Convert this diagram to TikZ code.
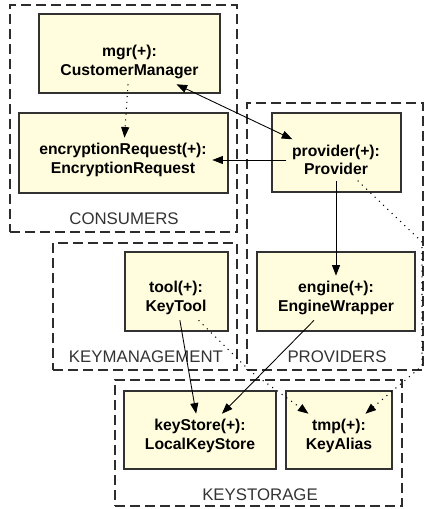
\documentclass[tikz,border=0pt]{standalone}
\usepackage{fontspec}
\setmainfont{Liberation Sans}
\usetikzlibrary{arrows.meta,fit}
\definecolor{objfill}{RGB}{255,253,222}
\definecolor{objline}{RGB}{50,50,50}
\definecolor{pkgline}{RGB}{45,45,45}
\begin{document}
\begin{tikzpicture}[x=0.75pt, y=-0.75pt,
    obj/.style={draw=objline, fill=objfill, line width=0.8pt, inner sep=0pt},
    txt/.style={font=\fontsize{11.8}{14}\selectfont\bfseries, align=center, inner sep=4pt},
    pkg/.style={draw=pkgline, line width=0.8pt, dash pattern=on 7.5pt off 3.75pt, inner sep=0pt},
    pkgname/.style={font=\fontsize{12.6}{14}\selectfont, text=black!80, inner sep=1pt},
    link/.style={line width=0.65pt, -{Triangle[length=8pt,width=6pt]}},
    both/.style={line width=0.65pt, {Triangle[length=8pt,width=6pt]}-{Triangle[length=8pt,width=6pt]}},
    dep/.style={line width=0.8pt, dash pattern=on 0.8pt off 3.6pt, -{Triangle[length=8pt,width=6pt]}}]

    \useasboundingbox (0,0) rectangle (428,509);

    % packages
    \node[pkg, fit={(10,5) (237,232)}]    (consumers) {};
    \node[pkg, fit={(53,243) (237,370)}]  (keymanagement) {};
    \node[pkg, fit={(247,103) (423,370)}] (providers) {};
    \node[pkg, fit={(115,380) (402,506)}] (keystorage) {};
    \node[pkgname] (consumerslbl)     at (124,219) {CONSUMERS};
    \node[pkgname] (keymanagementlbl) at (146,357) {KEYMANAGEMENT};
    \node[pkgname] (providerslbl)     at (337,357) {PROVIDERS};
    \node[pkgname] (keystoragelbl)    at (260,495) {KEYSTORAGE};

    % objects
    \node[obj, fit={(39,14) (220,93)}]    (mgrbox) {};
    \node[obj, fit={(19,113) (228,193)}]  (encbox) {};
    \node[obj, fit={(272,113) (401,192)}] (providerbox) {};
    \node[obj, fit={(125,252) (228,331)}] (toolbox) {};
    \node[obj, fit={(257,252) (415,331)}] (enginebox) {};
    \node[obj, fit={(124,391) (276,469)}] (keystorebox) {};
    \node[obj, fit={(286,391) (392,469)}] (tmpbox) {};

    \node[txt] (mgr)      at (129.5,62) {mgr(+):\\CustomerManager};
    \node[txt] (enc)      at (123,160)  {encryptionRequest(+):\\EncryptionRequest};
    \node[txt] (provider) at (336,160)  {provider(+):\\Provider};
    \node[txt] (tool)     at (176,298)  {tool(+):\\KeyTool};
    \node[txt] (engine)   at (336,298)  {engine(+):\\EngineWrapper};
    \node[txt] (keystore) at (200,436)  {keyStore(+):\\LocalKeyStore};
    \node[txt] (tmp)      at (339,436)  {tmp(+):\\KeyAlias};

    % bends of the dotted links
    \coordinate (tbend) at (250,371);
    \coordinate (pbend1) at (422,242);
    \coordinate (pbend2) at (422,366);

    % links
    \draw[both] (mgr) -- (provider);
    \draw[link] (provider) -- (enc);
    \draw[link] (provider) -- (engine);
    \draw[link] (engine) -- (keystore);
    \draw[link] (tool) -- (keystore);
    \draw[dep] (mgr) -- (enc);
    \draw[dep] (tool) -- (tbend) -- (tmp);
    \draw[dep] (provider) -- (pbend1) -- (pbend2) -- (tmp);

\end{tikzpicture}
\end{document}
